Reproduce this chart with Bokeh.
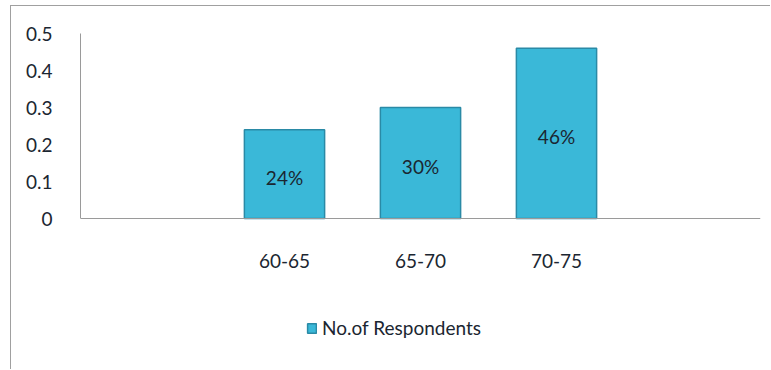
from bokeh.plotting import figure
from bokeh.models import ColumnDataSource, FactorRange, FixedTicker, Legend, LegendItem
from bokeh.core.properties import value
from bokeh.embed import file_html
from bokeh.resources import INLINE

slots = [" ", "60-65", "65-70", "70-75", "  "]
categories = ["60-65", "65-70", "70-75"]
shares = [0.24, 0.30, 0.46]
labels = ["24%", "30%", "46%"]
y_ticks = [0, 0.1, 0.2, 0.3, 0.4, 0.5]
series_name = "No.of Respondents"

FONT = "Lato"
FS = "19px"

src = ColumnDataSource(dict(cat=categories, val=shares, mid=[v / 2 for v in shares], lab=labels))

# frame extends below zero so the legend can sit inside it; axis pinned at 0
p = figure(x_range=FactorRange(factors=slots, range_padding=0), y_range=(-0.4, 0.5),
           width=760, height=364, output_backend="svg", toolbar_location=None,
           min_border_left=69, min_border_right=11, min_border_top=27, min_border_bottom=4,
           styles={"margin-left": "10px", "margin-top": "5px",
                   "border-left": "1px solid #a0a0a0", "border-top": "1px solid #a0a0a0"})
p.outline_line_color = None
p.xgrid.grid_line_color = None
p.ygrid.grid_line_color = None

bars = p.vbar(x="cat", top="val", width=0.59, source=src,
              fill_color="#3ab8d8", line_color="#2a8aa6", line_width=1.5)
p.text(x="cat", y="mid", text="lab", source=src, text_align="center", text_baseline="middle",
       y_offset=3, text_font=value(FONT), text_font_size=FS, text_color="#1b2631")

p.xaxis.fixed_location = 0
p.yaxis.bounds = (0, 0.5)
p.yaxis.ticker = FixedTicker(ticks=y_ticks)
p.yaxis.major_label_overrides = {t: f"{t:g}" for t in y_ticks}
for ax in (p.xaxis, p.yaxis):
    ax.major_tick_line_color = None
    ax.minor_tick_line_color = None
    ax.axis_line_color = "#9a9a9a"
    ax.major_label_text_font = FONT
    ax.major_label_text_font_size = FS
    ax.major_label_text_color = "#1b2631"
p.yaxis.major_label_standoff = 22
p.xaxis.major_label_standoff = 24

legend = Legend(items=[LegendItem(label=series_name, renderers=[bars])],
                location=(226, 27), orientation="horizontal",
                background_fill_alpha=0, border_line_color=None,
                label_text_font=FONT, label_text_font_size=FS, label_text_color="#1b2631",
                glyph_width=11, glyph_height=12, label_standoff=5, padding=0, margin=0)
p.add_layout(legend, "center")

open("out.html", "w").write(file_html(p, INLINE))
